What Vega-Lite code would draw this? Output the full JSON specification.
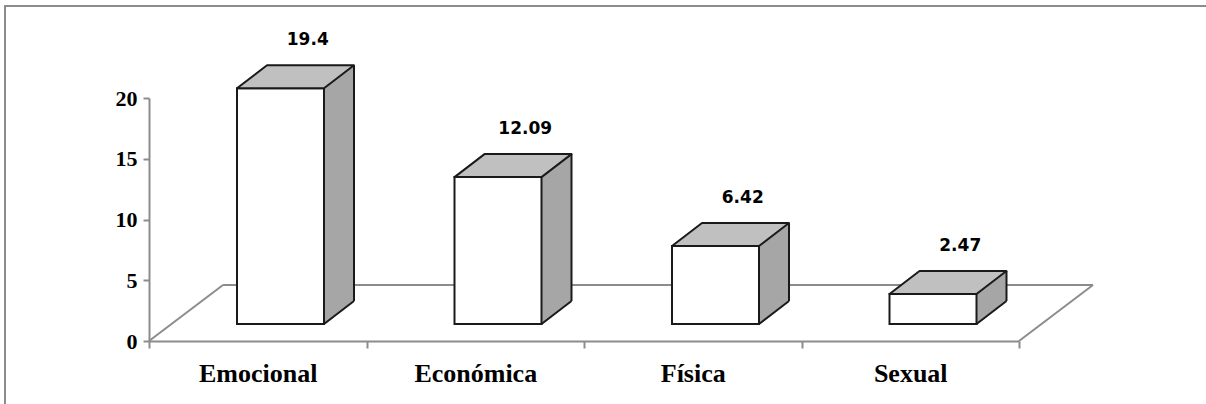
{
  "$schema": "https://vega.github.io/schema/vega-lite/v6.json",
  "width": 1210,
  "height": 410,
  "autosize": {"type": "none"},
  "padding": {"left": 5, "top": 6, "right": 0, "bottom": 0},
  "background": "white",
  "config": {
    "view": {"stroke": "#8c8c8c", "strokeWidth": 2},
    "axis": {"grid": false, "title": null}
  },
  "data": {
    "values": [
      {"tipo": "Emocional", "valor": 19.4},
      {"tipo": "Económica", "valor": 12.09},
      {"tipo": "Física", "valor": 6.42},
      {"tipo": "Sexual", "valor": 2.47}
    ]
  },
  "layer": [
    {
      "data": {"values": [{}]},
      "mark": {"type": "rule", "color": "#8c8c8c", "strokeWidth": 2, "xOffset": 74, "x2Offset": 74, "yOffset": -56},
      "encoding": {
        "x": {"datum": "Emocional", "type": "nominal", "bandPosition": 0},
        "x2": {"datum": "Sexual", "bandPosition": 1},
        "y": {"datum": 0, "type": "quantitative"}
      }
    },
    {
      "data": {"values": [{}]},
      "mark": {"type": "rule", "color": "#8c8c8c", "strokeWidth": 2, "x2Offset": 74, "y2Offset": -56},
      "encoding": {
        "x": {"datum": "Emocional", "type": "nominal", "bandPosition": 0},
        "x2": {"datum": "Emocional", "bandPosition": 0},
        "y": {"datum": 0, "type": "quantitative"},
        "y2": {"datum": 0}
      }
    },
    {
      "data": {"values": [{}]},
      "mark": {"type": "rule", "color": "#8c8c8c", "strokeWidth": 2, "x2Offset": 74, "y2Offset": -56},
      "encoding": {
        "x": {"datum": "Sexual", "type": "nominal", "bandPosition": 1},
        "x2": {"datum": "Sexual", "bandPosition": 1},
        "y": {"datum": 0, "type": "quantitative"},
        "y2": {"datum": 0}
      }
    },
    {
      "mark": {"type": "bar", "fill": "#a6a6a6", "width": 30, "xOffset": 81.25, "yOffset": -40, "y2Offset": -17},
      "encoding": {
        "x": {
          "field": "tipo", "type": "nominal", "sort": null,
          "scale": {"type": "band", "domain": ["Emocional", "Económica", "Física", "Sexual"], "range": [144, 1014], "paddingInner": 0, "paddingOuter": 0},
          "axis": {
            "offset": -75, "labelAngle": 0, "labelAlign": "center", "labelBaseline": "top", "tickBand": "extent",
            "domainColor": "#8c8c8c", "domainWidth": 2, "tickColor": "#8c8c8c", "tickWidth": 2, "tickSize": 7,
            "labelFont": "Liberation Serif", "labelFontWeight": "bold", "labelFontSize": 26, "labelColor": "#000000", "labelPadding": 12
          }
        },
        "y": {
          "field": "valor", "type": "quantitative",
          "scale": {"domain": [0, 20], "range": [335, 92], "nice": false, "zero": true},
          "axis": {
            "offset": -144, "values": [0, 5, 10, 15, 20],
            "domainColor": "#8c8c8c", "domainWidth": 2, "tickColor": "#8c8c8c", "tickWidth": 2, "tickSize": 6,
            "labelFont": "Liberation Serif", "labelFontWeight": "bold", "labelFontSize": 22, "labelColor": "#000000", "labelPadding": 6
          }
        },
        "y2": {"datum": 0}
      }
    },
    {
      "mark": {"type": "point", "shape": "M43.5,1 L74.5,-23.5 L74.5,1.5 Z", "size": 4, "filled": true, "fill": "white", "opacity": 1, "xOffset": 22.75, "yOffset": -17},
      "encoding": {
        "x": {"field": "tipo", "type": "nominal", "sort": null},
        "y": {"datum": 0, "type": "quantitative"}
      }
    },
    {
      "mark": {"type": "point", "shape": "M43.5,0 L73.5,-23", "size": 4, "filled": false, "color": "#1a1a1a", "strokeWidth": 2, "opacity": 1, "xOffset": 22.75, "yOffset": -17},
      "encoding": {
        "x": {"field": "tipo", "type": "nominal", "sort": null},
        "y": {"datum": 0, "type": "quantitative"}
      }
    },
    {
      "mark": {"type": "rule", "color": "#1a1a1a", "strokeWidth": 2, "xOffset": 96.25, "yOffset": -40, "y2Offset": -40},
      "encoding": {
        "x": {"field": "tipo", "type": "nominal", "sort": null},
        "y": {"field": "valor", "type": "quantitative"},
        "y2": {"datum": 0}
      }
    },
    {
      "mark": {"type": "bar", "fill": "white", "stroke": "#1a1a1a", "strokeWidth": 2, "width": 87, "xOffset": 22.75, "yOffset": -17, "y2Offset": -17},
      "encoding": {
        "x": {"field": "tipo", "type": "nominal", "sort": null},
        "y": {"field": "valor", "type": "quantitative"},
        "y2": {"datum": 0}
      }
    },
    {
      "mark": {"type": "point", "shape": "M-43.5,0 L43.5,0 L73.5,-23 L-13.5,-23 Z", "size": 4, "filled": true, "fill": "#c0c0c0", "stroke": "#1a1a1a", "strokeWidth": 2, "strokeJoin": "round", "opacity": 1, "xOffset": 22.75, "yOffset": -17},
      "encoding": {
        "x": {"field": "tipo", "type": "nominal", "sort": null},
        "y": {"field": "valor", "type": "quantitative"}
      }
    },
    {
      "mark": {"type": "text", "font": "DejaVu Sans", "fontWeight": "bold", "fontSize": 17, "color": "#000000", "align": "center", "baseline": "alphabetic", "dx": 50, "yOffset": -17, "dy": -43},
      "encoding": {
        "x": {"field": "tipo", "type": "nominal", "sort": null},
        "y": {"field": "valor", "type": "quantitative"},
        "text": {"field": "valor", "type": "quantitative"}
      }
    }
  ]
}
